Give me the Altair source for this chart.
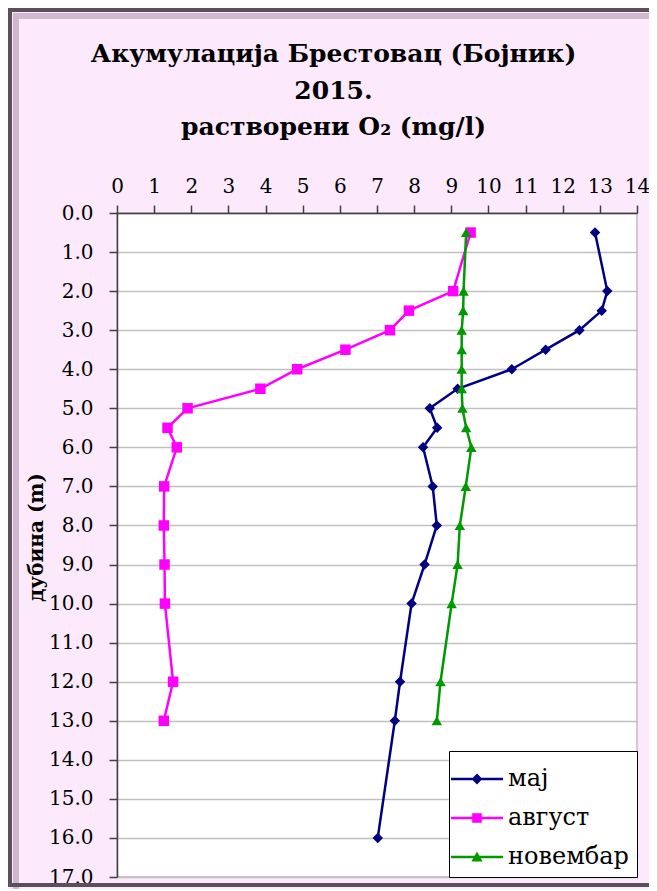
import altair as alt
import pandas as pd

series_names = ["мај", "август", "новембар"]
series_colors = ["#000080", "#FF00FF", "#009900"]
series_shapes = ["diamond", "square", "triangle-up"]

depth_maj = [0.5, 2, 2.5, 3, 3.5, 4, 4.5, 5, 5.5, 6, 7, 8, 9, 10, 12, 13, 16]
o2_maj = [12.87, 13.2, 13.05, 12.45, 11.54, 10.63, 9.17, 8.42, 8.62, 8.24,
          8.5, 8.61, 8.28, 7.93, 7.62, 7.48, 7.02]

depth_avg = [0.5, 2, 2.5, 3, 3.5, 4, 4.5, 5, 5.5, 6, 7, 8, 9, 10, 12, 13]
o2_avg = [9.52, 9.05, 7.86, 7.35, 6.15, 4.85, 3.86, 1.90, 1.36, 1.61,
          1.27, 1.26, 1.28, 1.29, 1.51, 1.26]

depth_nov = [0.5, 2, 2.5, 3, 3.5, 4, 4.5, 5, 5.5, 6, 7, 8, 9, 10, 12, 13]
o2_nov = [9.4, 9.33, 9.32, 9.28, 9.28, 9.28, 9.28, 9.3, 9.4, 9.54,
          9.39, 9.23, 9.17, 9.01, 8.71, 8.61]

x_ticks = list(range(0, 15))
y_ticks = list(range(0, 18))

title_lines = ["Акумулација Брестовац (Бојник)", "2015.", "растворени O₂ (mg/l)"]
y_title = "дубина (m)"

rows = []
for name, depths, vals in [(series_names[0], depth_maj, o2_maj),
                           (series_names[1], depth_avg, o2_avg),
                           (series_names[2], depth_nov, o2_nov)]:
    for d, v in zip(depths, vals):
        rows.append({"series": name, "depth": d, "o2": v})
df = pd.DataFrame(rows)

SERIF = "DejaVu Serif"

# legend glyphs: a line segment with the marker in the middle
line_path = "M-1.3,-0.065L1.3,-0.065L1.3,0.065L-1.3,0.065Z"
legend_glyphs = [
    line_path + "M0,-0.27L0.27,0L0,0.27L-0.27,0Z",
    line_path + "M-0.24,-0.24L0.24,-0.24L0.24,0.24L-0.24,0.24Z",
    line_path + "M0,-0.27L0.28,0.22L-0.28,0.22Z",
]

legend = alt.Legend(
    title=None, orient="bottom-right", offset=0,
    fillColor="white", strokeColor="black", padding=8,
    labelFont=SERIF, labelFontSize=24, labelColor="black", labelOffset=11,
    symbolSize=1600, symbolStrokeWidth=0, symbolOpacity=1, rowPadding=7,
)

x_enc = alt.X("o2:Q", scale=alt.Scale(domain=[0, 14], nice=False, zero=False),
              axis=alt.Axis(orient="top", values=x_ticks, title=None, grid=False,
                            format="d", labelFont=SERIF, labelFontSize=20,
                            labelOverlap=False, labelBound=False, labelFlush=False,
                            labelColor="black", labelPadding=9, tickSize=8,
                            tickColor="#404040", tickWidth=1.5,
                            domainColor="#404040", domainWidth=1.5))
y_enc = alt.Y("depth:Q", scale=alt.Scale(domain=[0, 17], reverse=True, nice=False, zero=False),
              axis=alt.Axis(values=y_ticks, format=".1f", grid=True, gridColor="#C0C0C0",
                            gridWidth=1.5, labelFont=SERIF, labelFontSize=20,
                            labelOverlap=False, labelFlush=False,
                            labelColor="black", labelPadding=16, tickSize=8,
                            tickColor="#404040", tickWidth=1.5,
                            domainColor="#404040", domainWidth=1.5,
                            title=y_title, titleFont=SERIF, titleFontSize=20,
                            titleFontWeight="bold", titleColor="black",
                            titleAngle=270, titleAlign="center", titleBaseline="middle",
                            titleX=-81, titleY=324))

base = alt.Chart(df)
layers = []
for name, col in zip(series_names, series_colors):
    sub = base.transform_filter(alt.datum.series == name)
    layers.append(sub.mark_line(strokeWidth=2.5, color=col).encode(
        x=x_enc, y=y_enc, order=alt.Order("depth:Q")))
for name, col, shp in zip(series_names, series_colors, series_shapes):
    sub = base.transform_filter(alt.datum.series == name)
    layers.append(sub.mark_point(filled=True, opacity=1, size=110, color=col, shape=shp).encode(
        x=x_enc, y=y_enc))

# legend-only layer (draws no marks, only provides the legend)
legend_layer = base.transform_filter("false").mark_point(filled=True, opacity=1).encode(
    x=x_enc, y=y_enc,
    color=alt.Color("series:N", scale=alt.Scale(domain=series_names, range=series_colors),
                    legend=legend),
    shape=alt.Shape("series:N", scale=alt.Scale(domain=series_names, range=legend_glyphs),
                    legend=legend),
)

# outer chart frame (decoration)
frame2 = alt.Chart(pd.DataFrame({"a": [0]})).mark_rect(
    fill="transparent", stroke="#cdb8cd", strokeWidth=6).encode(
    x=alt.value(-101), x2=alt.value(535), y=alt.value(-197), y2=alt.value(700))
frame = alt.Chart(pd.DataFrame({"a": [0]})).mark_rect(
    fill="transparent", stroke="#5a4f5a", strokeWidth=4).encode(
    x=alt.value(-107), x2=alt.value(535), y=alt.value(-203), y2=alt.value(672))

chart = alt.layer(frame2, frame, *layers, legend_layer).properties(
    width=520, height=664,
    padding={"left": 109, "top": 205, "right": 12, "bottom": 12},
    autosize=alt.AutoSizeParams(type="none"),
    background="#FCEAFC",
    title=alt.Title(text=title_lines, font=SERIF, fontSize=25, fontWeight="bold",
                    color="black", anchor="middle", frame="bounds", offset=0,
                    dy=132, dx=2, lineHeight=36.5),
).configure_view(fill="white", stroke="#BFBFBF", strokeWidth=1.5)

chart.save("out.html", embed_options={"renderer": "svg", "actions": False})
